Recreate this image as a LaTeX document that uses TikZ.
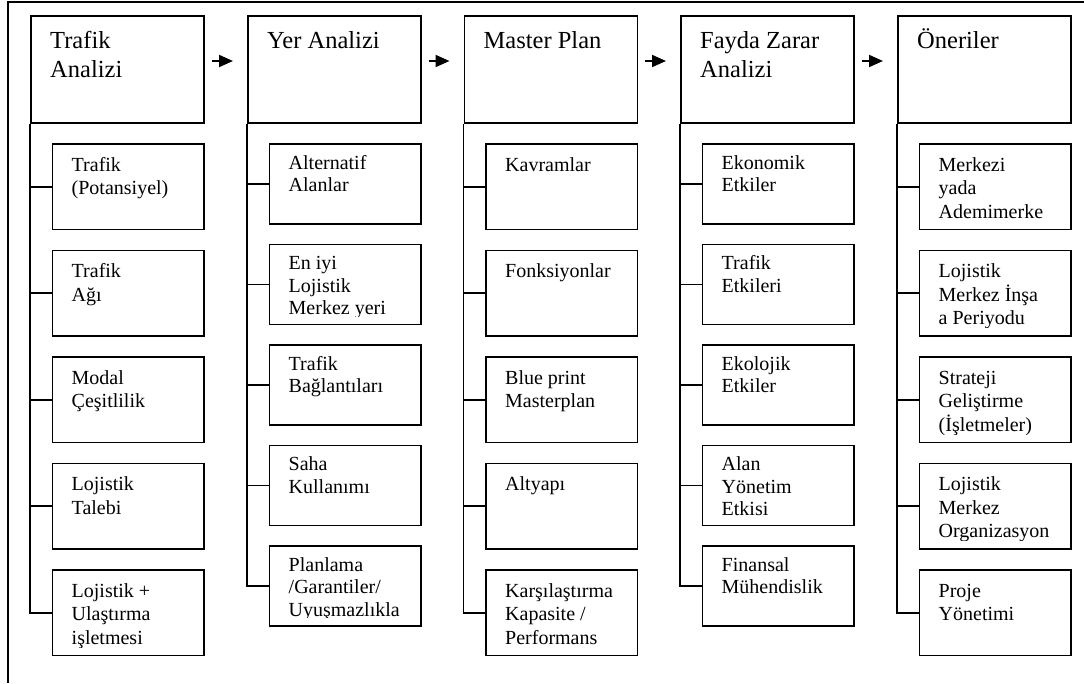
\documentclass[tikz,border=0pt]{standalone}
\usepackage{fontspec}
\setmainfont{Liberation Serif}
\usetikzlibrary{arrows.meta}

% one sub-item box: name, left x, top y, height, first-baseline offset, line skip, text
\newcommand\itembox[7]{%
  \node[itembox, minimum height=#4] (#1) at (#2,#3) {};
  \begin{scope}
    \clip (#1.north west) rectangle ([shift={(-4,-9)}]#1.south east);
    \node[itemtext] (#1t) at ([shift={(20,#5)}]#1.north west)
      {\parbox[t]{160pt}{\fontsize{20}{#6}\selectfont #7}};
  \end{scope}
}
% one column heading box: name, left x, text
\newcommand\headbox[3]{%
  \node[headbox] (#1) at (#2,15) {};
  \node[headtext] (#1t) at ([shift={(20,33)}]#1.north west)
    {\parbox[t]{160pt}{#3}};
}

\begin{document}
\begin{tikzpicture}[x=1pt,y=-1pt,
  boxline/.style={draw=black, line width=1.9pt},
  headbox/.style={boxline, anchor=north west, inner sep=0pt,
    minimum width=173pt, minimum height=107pt},
  itembox/.style={boxline, anchor=north west, inner sep=0pt,
    minimum width=151.5pt},
  headtext/.style={anchor=base west, inner sep=0pt,
    font=\fontsize{24.5}{29}\selectfont},
  itemtext/.style={anchor=base west, inner sep=0pt},
  link/.style={line width=1.9pt},
  flow/.style={line width=1.9pt, -{Triangle[length=14pt,width=12pt]}},
  frame/.style={line width=1.4pt}]

\useasboundingbox (0,0) rectangle (1084,683);

% outer frame (only its top and left edges fall inside the page)
\coordinate (fbl) at (8,683);
\coordinate (ftl) at (8,2);
\coordinate (ftr) at (1084,2);
\draw[frame] (fbl) -- (ftl) -- (ftr);

% column headings
\headbox{h1}{30}{Trafik\\Analizi}
\headbox{h2}{247}{Yer Analizi}
\headbox{h3}{463.5}{Master Plan}
\headbox{h4}{680}{Fayda Zarar\\Analizi}
\headbox{h5}{897}{Öneriler}

% column 1
\itembox{a1}{51.5}{143}{85.5}{28}{23.5}{Trafik\\(Potansiyel)}
\itembox{a2}{51.5}{249.5}{85.5}{28}{23.5}{Trafik\\Ağı}
\itembox{a3}{51.5}{356}{85.5}{28}{23.5}{Modal\\Çeşitlilik}
\itembox{a4}{51.5}{462.5}{85.5}{28}{23.5}{Lojistik\\Talebi}
\itembox{a5}{51.5}{569}{85.5}{28}{23.5}{Lojistik +\\Ulaştırma\\işletmesi}

% column 2
\itembox{b1}{268.5}{143}{80}{26}{22.5}{Alternatif\\Alanlar}
\itembox{b2}{268.5}{243.5}{80}{26}{22.5}{En iyi\\Lojistik\\Merkez yeri}
\itembox{b3}{268.5}{344}{80}{26}{22.5}{Trafik\\Bağlantıları}
\itembox{b4}{268.5}{444.5}{80}{26}{22.5}{Saha\\Kullanımı}
\itembox{b5}{268.5}{545}{80}{26}{22.5}{Planlama\\/Garantiler/\\Uyuşmazlıkla}

% column 3
\itembox{c1}{485}{143}{85.5}{28}{23.5}{Kavramlar}
\itembox{c2}{485}{249.5}{85.5}{28}{23.5}{Fonksiyonlar}
\itembox{c3}{485}{356}{85.5}{28}{23.5}{Blue print\\Masterplan}
\itembox{c4}{485}{462.5}{85.5}{28}{23.5}{Altyapı}
\itembox{c5}{485}{569}{85.5}{28}{23.5}{Karşılaştırma\\Kapasite /\\Performans}

% column 4
\itembox{d1}{701.5}{143}{80}{26}{22.5}{Ekonomik\\Etkiler}
\itembox{d2}{701.5}{243.5}{80}{26}{22.5}{Trafik\\Etkileri}
\itembox{d3}{701.5}{344}{80}{26}{22.5}{Ekolojik\\Etkiler}
\itembox{d4}{701.5}{444.5}{80}{26}{22.5}{Alan\\Yönetim\\Etkisi}
\itembox{d5}{701.5}{545}{80}{26}{22.5}{Finansal\\Mühendislik}

% column 5
\itembox{e1}{918.5}{143}{85.5}{28}{23.5}{Merkezi\\yada\\Ademimerke}
\itembox{e2}{918.5}{249.5}{85.5}{28}{23.5}{Lojistik\\Merkez İnşa\\a Periyodu}
\itembox{e3}{918.5}{356}{85.5}{28}{23.5}{Strateji\\Geliştirme\\(İşletmeler)}
\itembox{e4}{918.5}{462.5}{85.5}{28}{23.5}{Lojistik\\Merkez\\Organizasyon}
\itembox{e5}{918.5}{569}{85.5}{28}{23.5}{Proje\\Yönetimi}

% trunks and branches
\foreach \h/\c in {h1/a, h2/b, h3/c, h4/d, h5/e}{
  \draw[link] (\h.south west) |- (\c5.west);
  \foreach \k in {1,...,4}
    \draw[link] (\c\k.west) -- (\c\k.west -| \h.west);
}

% flow between headings
\foreach \p/\q in {h1/h2, h2/h3, h3/h4, h4/h5}
  \draw[flow] ([shift={(7,46)}]\p.north east) -- ([shift={(-14,46)}]\q.north west);

\end{tikzpicture}
\end{document}
